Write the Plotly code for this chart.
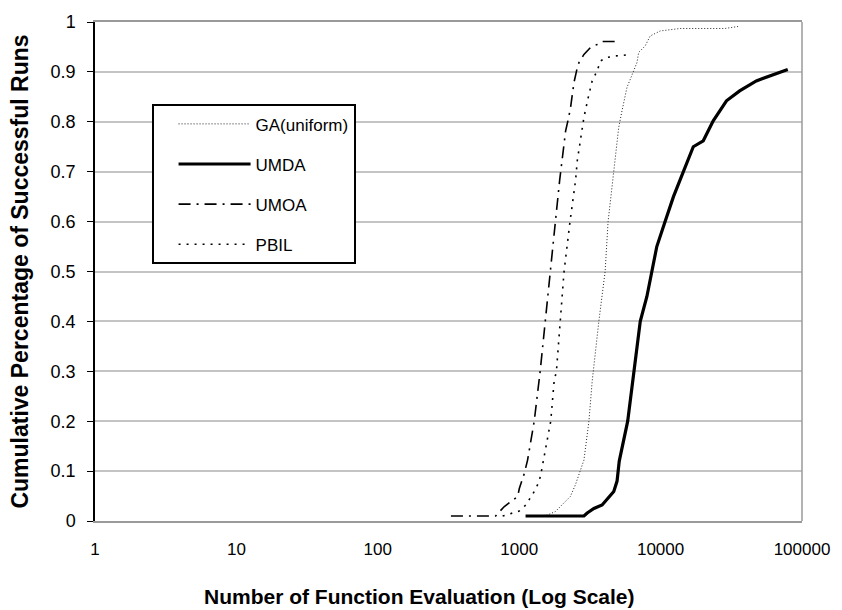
import plotly.graph_objects as go

# ---- data ----
ga_x = [1347, 1584, 1803, 2076, 2298, 2493, 2704, 2870, 3112, 3282, 3658, 4052, 4252,
        4665, 4921, 5058, 5333, 5785, 6447, 6808, 6997, 7780, 8440, 9150, 9930, 13710,
        28430, 35300]
ga_y = [0.01, 0.012, 0.019, 0.036, 0.049, 0.072, 0.102, 0.122, 0.2, 0.28, 0.4, 0.5, 0.6,
        0.702, 0.749, 0.789, 0.822, 0.869, 0.902, 0.919, 0.939, 0.952, 0.972, 0.977, 0.982,
        0.987, 0.987, 0.991]

umda_x = [1109, 2870, 3027, 3375, 3857, 4303, 4665, 4921, 5000, 5100, 5852, 6513, 7180,
          8000, 8670, 9400, 10760, 12330, 14490, 17030, 20030, 23560, 29230, 36230, 47510,
          79300]
umda_y = [0.01, 0.01, 0.016, 0.025, 0.032, 0.049, 0.059, 0.08, 0.1, 0.12, 0.2, 0.3, 0.4,
          0.45, 0.5, 0.55, 0.6, 0.65, 0.7, 0.75, 0.762, 0.802, 0.842, 0.862, 0.882, 0.905]

umoa_x = [329, 400, 494, 629, 682, 705, 785, 875, 975, 1002, 1086, 1146, 1277, 1407, 1534,
          1655, 1803, 1933, 2053, 2130, 2224, 2310, 2375, 2441, 2545, 2648, 2870, 3193,
          3558, 3857, 4921]
umoa_y = [0.01, 0.01, 0.01, 0.01, 0.01, 0.015, 0.029, 0.039, 0.049, 0.065, 0.095, 0.122,
          0.2, 0.3, 0.4, 0.5, 0.6, 0.683, 0.742, 0.782, 0.805, 0.829, 0.855, 0.879, 0.902,
          0.919, 0.935, 0.949, 0.955, 0.961, 0.961]

pbil_x = [764, 1000, 1114, 1277, 1384, 1436, 1671, 1766, 1833, 1945, 2076, 2287, 2505,
          2575, 2717, 2870, 3112, 3282, 3558, 3755, 4185, 4786, 5785]
pbil_y = [0.01, 0.02, 0.032, 0.059, 0.079, 0.1, 0.2, 0.28, 0.3, 0.4, 0.5, 0.6, 0.683,
          0.722, 0.762, 0.809, 0.855, 0.882, 0.902, 0.922, 0.929, 0.932, 0.934]

x_ticks = [1, 10, 100, 1000, 10000, 100000]
x_tick_text = ["1", "10", "100", "1000", "10000", "100000"]
y_ticks = [0, 0.1, 0.2, 0.3, 0.4, 0.5, 0.6, 0.7, 0.8, 0.9, 1]
y_tick_text = ["0", "0.1", "0.2", "0.3", "0.4", "0.5", "0.6", "0.7", "0.8", "0.9", "1"]

FONT = "Liberation Sans, Arial, sans-serif"

fig = go.Figure()
fig.add_trace(go.Scatter(x=ga_x, y=ga_y, mode="lines", name="GA(uniform)", legendgroup="a",
                         line=dict(color="#222222", width=1, dash="1px,2px")))
fig.add_trace(go.Scatter(x=umda_x, y=umda_y, mode="lines", name="UMDA", legendgroup="b",
                         line=dict(color="black", width=3.2)))
fig.add_trace(go.Scatter(x=umoa_x, y=umoa_y, mode="lines", name="UMOA", legendgroup="c",
                         line=dict(color="black", width=1.6, dash="12px,6px,2px,6px")))
fig.add_trace(go.Scatter(x=pbil_x, y=pbil_y, mode="lines", name="PBIL", legendgroup="d",
                         line=dict(color="black", width=1.6, dash="2px,6px")))

fig.update_layout(
    width=842, height=610,
    margin=dict(l=95, r=36, t=21, b=89),
    paper_bgcolor="white", plot_bgcolor="white",
    font=dict(family=FONT, size=17, color="black"),
    showlegend=True,
    legend=dict(x=0.08, y=0.835, xanchor="left", yanchor="top",
                bordercolor="black", borderwidth=2, bgcolor="white",
                font=dict(size=17), tracegroupgap=15, itemwidth=72, indentation=20),
    xaxis=dict(type="log", range=[0, 5], tickvals=x_ticks, ticktext=x_tick_text,
               showgrid=False, zeroline=False, showline=True, linecolor="#9a9a9a",
               linewidth=1.5, mirror=True, ticks="outside", ticklen=12,
               tickcolor="rgba(0,0,0,0)", tickfont=dict(size=17)),
    yaxis=dict(range=[0, 1], tickvals=y_ticks, ticktext=y_tick_text,
               showgrid=True, gridcolor="#c4c4c4", gridwidth=1.5, zeroline=False,
               showline=True, linecolor="black", linewidth=1.5,
               ticks="outside", ticklen=6, tickcolor="black", tickfont=dict(size=18),
               ticklabelstandoff=8,
               title=dict(text="<b>Cumulative Percentage of Successful Runs</b>",
                          font=dict(size=23), standoff=16)),
    annotations=[dict(text="<b>Number of Function Evaluation (Log Scale)</b>",
                      xref="paper", yref="paper", x=0.4585, y=-0.152,
                      xanchor="center", yanchor="middle", showarrow=False,
                      font=dict(size=21))],
    shapes=[dict(type="line", xref="paper", yref="paper", x0=1, x1=1, y0=0, y1=1,
                 line=dict(color="#9a9a9a", width=1.5))],
)

fig.write_html("out.html", config={"displayModeBar": False},
               post_script="document.body.style.margin='0px';")
